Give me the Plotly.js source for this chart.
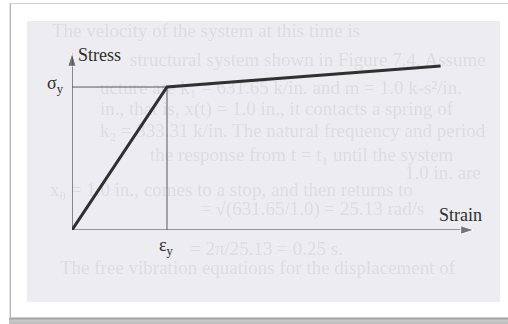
<!DOCTYPE html>
<html>
<head>
<meta charset="utf-8">
<script src="https://cdn.plot.ly/plotly-3.0.1.min.js"></script>
<style>
  html, body { margin: 0; padding: 0; background: #ffffff; overflow: hidden; }
  #stage { position: relative; width: 508px; height: 324px; }
  /* white mount with a thin border and a shadow along the bottom */
  .mount { position: absolute; left: 10px; top: 3px; width: 510px; height: 313px;
           border-left: 1px solid #b4b4b4; border-top: 1px solid #d2d2d2;
           border-bottom: 1px solid #cfcfcf; box-shadow: -1px 0 0 #e4e4e4; }
  .shadow { position: absolute; left: 9px; top: 318px; width: 510px; height: 6px;
            background: linear-gradient(#9c9c9c, #c8c8c8 40%, #bdbdbd); }
  /* scanned grey sheet */
  .sheet { position: absolute; left: 27px; top: 21px; width: 473px; height: 281px;
           background: #ececf1; overflow: hidden; }
  .sheet span { position: absolute; white-space: nowrap; font-family: 'Liberation Serif';
                font-size: 19px; line-height: 17px; color: #dcdce3; filter: blur(0.35px); }
  #chart { position: absolute; left: 0; top: 0; width: 508px; height: 324px; }
</style>
</head>
<body>
<div id="stage">
  <div class="mount"></div>
  <div class="shadow"></div>
  <div class="sheet" id="sheet"></div>
  <div id="chart"></div>
</div>
<script>
// Bilinear (elastic – strain hardening) stress–strain idealisation
const strainPts = [0, 1.0, 3.88];     // origin, yield strain, end of hardening branch
const stressPts = [0, 1.0, 1.147];    // origin, yield stress, stress at end of branch
const yieldStrain = 1.0;
const yieldStress = 1.0;
const axisMaxStrain = 4.232;
const axisMaxStress = 1.238;
const xAxisLabel = 'Strain';
const yAxisLabel = 'Stress';
const yieldStressLabel = 'σ<sub>y</sub>';
const yieldStrainLabel = 'ε<sub>y</sub>';

// faint print showing through from the neighbouring page
const showThroughLines = [
  'The velocity of the system at this time is',
  'structural system shown in Figure 7.4. Assume',
  'ucture are k\u2081 = 631.65 k/in. and m = 1.0 k-s\u00b2/in.',
  'in., that is, x(t) = 1.0 in., it contacts a spring of',
  'k\u2082 = 333.31 k/in. The natural frequency and period',
  'the response from t = t\u2081 until the system',
  '1.0 in. are',
  'x\u2080 = 1.0 in., comes to a stop, and then returns to',
  '= \u221a(631.65/1.0) = 25.13 rad/s',
  '= 2\u03c0/25.13 = 0.25 s.',
  'The free vibration equations for the displacement of'
];
// left edge and vertical centre of each show-through line, page pixels
const showPos = [[52, 31], [130, 60], [100, 88], [100, 109], [100, 131], [150, 155],
                 [405, 173], [50, 190], [200, 209], [190, 249], [60, 268]];
const sheet = document.getElementById('sheet');
showThroughLines.forEach((t, i) => {
  const s = document.createElement('span');
  s.textContent = t;
  s.style.left = (showPos[i][0] - 27) + 'px';
  s.style.top = (showPos[i][1] - 21 - 9) + 'px';
  sheet.appendChild(s);
});

const axisStyle = {
  mode: 'lines+markers', line: { color: '#444444', width: 1.2 },
  marker: { symbol: 'arrow', angleref: 'previous', size: [0, 14], color: '#444444' },
  hoverinfo: 'skip', showlegend: false, cliponaxis: false
};
const traces = [
  Object.assign({ x: [0, axisMaxStrain], y: [0, 0] }, axisStyle),   // strain axis
  Object.assign({ x: [0, 0], y: [0, axisMaxStress] }, axisStyle),   // stress axis
  { // yield reference lines
    x: [0, yieldStrain, yieldStrain], y: [yieldStress, yieldStress, 0],
    mode: 'lines', line: { color: '#5a5a5a', width: 1 },
    hoverinfo: 'skip', showlegend: false, cliponaxis: false },
  { // bilinear stress-strain curve
    x: strainPts, y: stressPts,
    mode: 'lines', line: { color: '#303030', width: 3 },
    hoverinfo: 'skip', showlegend: false, cliponaxis: false }
];

const labelFont = { family: 'Liberation Serif', size: 18, color: '#2e2e2e' };
const annotations = [
  { x: 0, y: axisMaxStress, xref: 'x', yref: 'y', text: yAxisLabel, showarrow: false,
    xanchor: 'left', yanchor: 'middle', xshift: 4, yshift: -2, font: labelFont },
  { x: axisMaxStrain, y: 0, xref: 'x', yref: 'y', text: xAxisLabel, showarrow: false,
    xanchor: 'right', yanchor: 'bottom', xshift: 10, yshift: 3, font: labelFont },
  { x: 0, y: yieldStress, xref: 'x', yref: 'y', text: yieldStressLabel, showarrow: false,
    xanchor: 'right', yanchor: 'middle', xshift: -6, yshift: 3, font: labelFont },
  { x: yieldStrain, y: 0, xref: 'x', yref: 'y', text: yieldStrainLabel, showarrow: false,
    xanchor: 'center', yanchor: 'top', yshift: -3, font: labelFont }
];

const layout = {
  width: 508, height: 324, margin: { l: 72, r: 34, t: 53, b: 94 },
  paper_bgcolor: 'rgba(0,0,0,0)', plot_bgcolor: 'rgba(0,0,0,0)',
  xaxis: { range: [0, axisMaxStrain], visible: false, fixedrange: true },
  yaxis: { range: [0, axisMaxStress], visible: false, fixedrange: true },
  annotations: annotations, showlegend: false
};

Plotly.newPlot('chart', traces, layout, { displayModeBar: false, staticPlot: true });
</script>
</body>
</html>
